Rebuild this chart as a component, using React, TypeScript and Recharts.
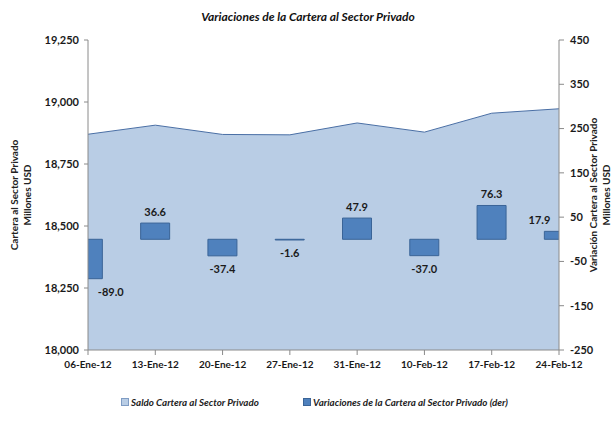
import {
  ComposedChart,
  Area,
  Bar,
  XAxis,
  YAxis,
  LabelList,
} from 'recharts';

const fechas = ['06-Ene-12', '13-Ene-12', '20-Ene-12', '27-Ene-12', '31-Ene-12', '10-Feb-12', '17-Feb-12', '24-Feb-12'];
const saldo = [18870, 18906.6, 18869.2, 18867.6, 18915.5, 18878.5, 18954.8, 18972.7];
const variaciones = [-89.0, 36.6, -37.4, -1.6, 47.9, -37.0, 76.3, 17.9];
const ticksIzq = [18000, 18250, 18500, 18750, 19000, 19250];
const ticksDer = [-250, -150, -50, 50, 150, 250, 350, 450];

const data = fechas.map((f, i) => ({ idx: i, fecha: f, saldo: saldo[i], variacion: variaciones[i] }));

const W = 616;
const H = 423;
const PLOT_LEFT = 88;
const PLOT_RIGHT = 559;
const FONT = 'Lato, "Open Sans", sans-serif';
const AXIS_GREY = '#8a8a8a';

const fmtMiles = (v: number) => v.toLocaleString('en-US');

// etiqueta de la barra, empujada hacia dentro si la barra queda cortada en el borde
function BarLabel(props: any) {
  const { x, y, width, height, value } = props;
  const v = Number(value);
  const text = v.toFixed(1);
  const w = text.length * 6.3;
  let cx = x + width / 2;
  if (cx - w / 2 < PLOT_LEFT + 7) cx = PLOT_LEFT + 7 + w / 2;
  if (cx + w / 2 > PLOT_RIGHT - 7) cx = PLOT_RIGHT - 7 - w / 2;
  const top = Math.min(y, y + height);
  const bottom = Math.max(y, y + height);
  const ty = v >= 0 ? top - 11 : bottom + 13;
  return (
    <text x={cx} y={ty} dy="0.35em" textAnchor="middle" fontSize={11} fontWeight={700} fill="#1a1a1a" fontFamily={FONT}>
      {text}
    </text>
  );
}

function AxisTitle({ x, lines }: { x: number; lines: string[] }) {
  const cy = 195;
  return (
    <text transform={`translate(${x},${cy}) rotate(-90)`} textAnchor="middle" fontSize={10} fontWeight={700} fill="#222" fontFamily={FONT}>
      {lines.map((l, i) => (
        <tspan key={l} x={0} dy={i === 0 ? 0 : 13}>
          {l}
        </tspan>
      ))}
    </text>
  );
}

export default function App() {
  return (
    <div style={{ position: 'absolute', left: 0, top: 0, width: W, height: H, background: '#fff', fontFamily: FONT }}>
      <div
        style={{
          position: 'absolute',
          top: 9,
          left: 0,
          width: W,
          textAlign: 'center',
          fontSize: 12,
          fontWeight: 700,
          fontStyle: 'italic',
          color: '#111',
        }}
      >
        Variaciones de la Cartera al Sector Privado
      </div>
      <ComposedChart width={W} height={H} data={data} margin={{ top: 40, right: 0, left: 0, bottom: 43 }}>
        <XAxis
          dataKey="idx"
          type="number"
          domain={[0, 7]}
          ticks={[0, 1, 2, 3, 4, 5, 6, 7]}
          tickFormatter={(i: number) => fechas[i]}
          interval={0}
          allowDataOverflow
          height={30}
          stroke={AXIS_GREY}
          tickSize={5}
          tickMargin={6}
          tick={{ fontSize: 10, fontWeight: 700, fill: '#1a1a1a', fontFamily: FONT }}
        />
        <YAxis
          yAxisId="izq"
          orientation="left"
          width={88}
          domain={[18000, 19250]}
          ticks={ticksIzq}
          tickFormatter={fmtMiles}
          allowDataOverflow
          stroke={AXIS_GREY}
          tickSize={4}
          tickMargin={5}
          tick={{ fontSize: 11, fontWeight: 700, fill: '#1a1a1a', fontFamily: FONT }}
          label={{ content: () => <AxisTitle x={18} lines={['Cartera al Sector Privado', 'Millones  USD']} /> }}
        />
        <YAxis
          yAxisId="der"
          orientation="right"
          width={57}
          domain={[-250, 450]}
          ticks={ticksDer}
          allowDataOverflow
          stroke={AXIS_GREY}
          tickSize={5}
          tickMargin={6}
          tick={{ fontSize: 11, fontWeight: 700, fill: '#1a1a1a', fontFamily: FONT }}
          label={{ content: () => <AxisTitle x={597} lines={['Variación Cartera al Sector Privado', 'Millones  USD']} /> }}
        />
        <Area
          yAxisId="izq"
          type="linear"
          dataKey="saldo"
          baseValue={18000}
          fill="#b9cde5"
          fillOpacity={1}
          stroke="#4a6fa5"
          strokeWidth={1}
          dot={false}
          activeDot={false}
          isAnimationActive={false}
        />
        <Bar
          yAxisId="der"
          dataKey="variacion"
          barSize={29}
          fill="#4f81bd"
          stroke="#3a6497"
          strokeWidth={1}
          isAnimationActive={false}
        >
          <LabelList dataKey="variacion" content={BarLabel} />
        </Bar>
      </ComposedChart>
      <div
        style={{
          position: 'absolute',
          top: 396,
          left: 0,
          width: W,
          fontSize: 9.8,
          fontWeight: 700,
          fontStyle: 'italic',
          color: '#222',
        }}
      >
        <span style={{ position: 'absolute', left: 121, top: 0, display: 'flex', alignItems: 'center', whiteSpace: 'nowrap' }}>
          <span style={{ width: 6, height: 6, background: '#b9cde5', border: '1px solid #7f9cc4', marginRight: 2 }} />
          Saldo Cartera al Sector Privado
        </span>
        <span style={{ position: 'absolute', left: 303, top: 0, display: 'flex', alignItems: 'center', whiteSpace: 'nowrap' }}>
          <span style={{ width: 6, height: 6, background: '#4f81bd', border: '1px solid #3a6497', marginRight: 2 }} />
          Variaciones de la Cartera al Sector Privado (der)
        </span>
      </div>
    </div>
  );
}
